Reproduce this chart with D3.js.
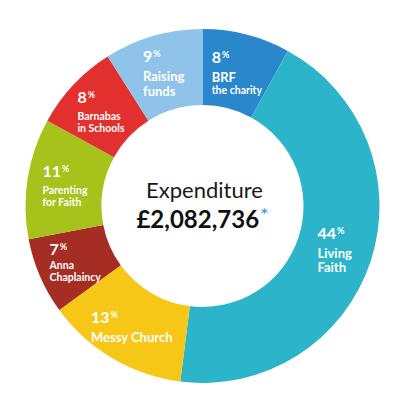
<!DOCTYPE html>
<html>
<head>
<meta charset="utf-8">
<script src="https://cdn.jsdelivr.net/npm/d3@7/dist/d3.min.js"></script>
<style>
  html, body { margin: 0; padding: 0; background: #ffffff; }
  svg { display: block; }
</style>
</head>
<body>
<div id="chart"></div>
<script>
// slices go clockwise from 12 o'clock
var categories = ["BRF the charity", "Living Faith", "Messy Church", "Anna Chaplaincy", "Parenting for Faith", "Barnabas in Schools", "Raising funds"];
var shares = [8, 44, 13, 7, 11, 8, 9];
var labelLines = [["BRF", "the charity"], ["Living", "Faith"], ["Messy Church"], ["Anna", "Chaplaincy"], ["Parenting", "for Faith"], ["Barnabas", "in Schools"], ["Raising", "funds"]];
var colors = ["#2a87cb", "#2cb4ca", "#f6c716", "#a62d24", "#a6c21b", "#e2302f", "#8fc3ea"];
var centreTitle = "Expenditure";
var centreTotal = "£2,082,736";

var width = 413, height = 397;
var cx = 202.5, cy = 206;
var outerR = 177, innerR = 101;

// which label lines use the small type
var smallType = {"the charity": true, "Barnabas": true, "in Schools": true, "Parenting": true, "for Faith": true, "Anna": true, "Chaplaincy": true};

var svg = d3.select("#chart").append("svg")
    .attr("width", width)
    .attr("height", height);

var g = svg.append("g").attr("transform", "translate(" + cx + "," + cy + ")");

var rows = categories.map(function (c, i) {
    return {name: c, value: shares[i], lines: labelLines[i], color: colors[i]};
});

var pie = d3.pie().sort(null).value(function (d) { return d.value; });
var arc = d3.arc().innerRadius(innerR).outerRadius(outerR);
var labelArc = d3.arc().innerRadius(139).outerRadius(139);

var arcs = pie(rows);

g.selectAll("path.slice")
    .data(arcs)
    .enter()
    .append("path")
    .attr("class", "slice")
    .attr("d", arc)
    .attr("fill", function (d) { return d.data.color; });

// labels: left aligned block centred on the slice centroid
arcs.forEach(function (d) {
    var t = g.append("text")
        .attr("fill", "#ffffff")
        .attr("font-family", "Lato, 'Open Sans', sans-serif")
        .attr("font-weight", "bold");
    t.append("tspan")
        .attr("x", 0).attr("y", 0)
        .attr("font-size", "16px")
        .text(d.data.value);
    t.append("tspan")
        .attr("font-size", "9px")
        .attr("dy", "-5")
        .attr("dx", "1")
        .text("%");
    var first = true;
    var y = 0;
    d.data.lines.forEach(function (line) {
        var small = !!smallType[line];
        if (first) {
            y += small ? (line == "Anna" ? 13.5 : 17) : 19;
        } else {
            y += small ? 12 : 14.5;
        }
        t.append("tspan")
            .attr("x", 0)
            .attr("y", y)
            .attr("font-size", small ? "10.5px" : "13px")
            .text(line);
        first = false;
    });
    var bb = t.node().getBBox();
    var c = labelArc.centroid(d);
    t.attr("transform", "translate(" + (c[0] - bb.x - bb.width / 2) + "," + (c[1] - bb.y - bb.height / 2) + ")");
});

// centre text
g.append("text")
    .attr("x", 2)
    .attr("y", -8)
    .attr("text-anchor", "middle")
    .attr("font-family", "Lato, 'Open Sans', sans-serif")
    .attr("font-size", "22px")
    .attr("fill", "#1a1a1a")
    .text(centreTitle);

var tot = g.append("text")
    .attr("x", 0)
    .attr("y", 22)
    .attr("text-anchor", "middle")
    .attr("font-family", "Lato, 'Open Sans', sans-serif")
    .attr("font-weight", "bold")
    .attr("font-size", "24px")
    .attr("fill", "#111111");
tot.append("tspan").text(centreTotal);
tot.append("tspan")
    .attr("font-size", "20px")
    .attr("dy", "-6")
    .attr("dx", "1")
    .attr("fill", "#2a9ad6")
    .attr("font-weight", "normal")
    .text("*");
</script>
</body>
</html>
